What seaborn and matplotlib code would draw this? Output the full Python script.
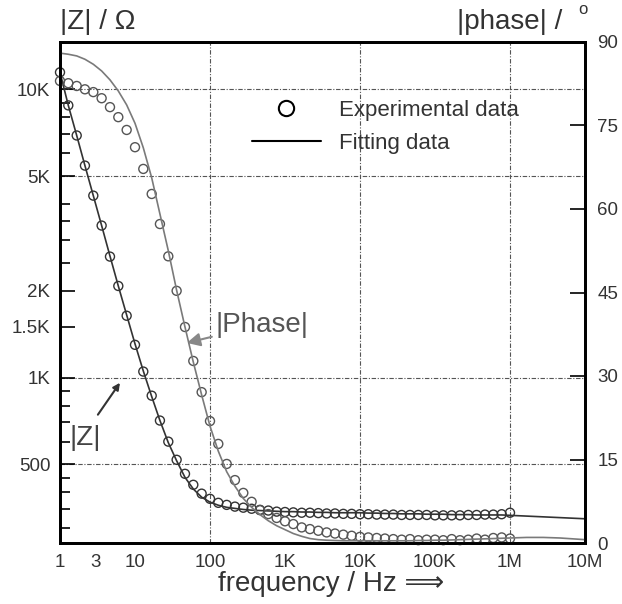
import matplotlib
matplotlib.use("Agg")
import matplotlib.pyplot as plt
import seaborn as sns
import pandas as pd
from matplotlib.lines import Line2D
from matplotlib.ticker import FixedLocator, FixedFormatter, NullFormatter

# measured frequencies, 9 points per decade (Hz)
freq_exp = [1, 1.29, 1.67, 2.15, 2.78, 3.59, 4.64, 5.99, 7.74,
            10, 12.9, 16.7, 21.5, 27.8, 35.9, 46.4, 59.9, 77.4,
            100, 129, 167, 215, 278, 359, 464, 599, 774,
            1e3, 1.29e3, 1.67e3, 2.15e3, 2.78e3, 3.59e3, 4.64e3, 5.99e3, 7.74e3,
            1e4, 1.29e4, 1.67e4, 2.15e4, 2.78e4, 3.59e4, 4.64e4, 5.99e4, 7.74e4,
            1e5, 1.29e5, 1.67e5, 2.15e5, 2.78e5, 3.59e5, 4.64e5, 5.99e5, 7.74e5,
            1e6]
# fit continues up to 10 MHz
freq_fit = freq_exp + [1.29e6, 1.67e6, 2.15e6, 2.78e6, 3.59e6, 4.64e6, 5.99e6, 7.74e6, 1e7]

z_exp = [11460, 8800, 6920, 5440, 4280, 3370, 2630, 2080, 1640,
         1300, 1050, 866, 710, 600, 519, 464, 425, 396,
         380, 368, 362, 357, 354, 351, 348, 346, 343,
         342, 341, 340, 340, 339, 338, 338, 337, 337,
         336, 336, 335, 335, 335, 334, 334, 334, 334,
         333, 333, 333, 333, 334, 334, 335, 335, 336,
         340]
phase_exp = [83.0, 82.6, 82.1, 81.5, 81.0, 79.9, 78.3, 76.5, 74.2,
             71.1, 67.2, 62.7, 57.3, 51.5, 45.3, 38.8, 32.7, 27.1,
             21.9, 17.8, 14.2, 11.3, 9.0, 7.4, 5.9, 5.2, 4.5,
             3.9, 3.4, 2.8, 2.5, 2.2, 1.9, 1.7, 1.5, 1.3,
             1.1, 1.0, 0.9, 0.8, 0.7, 0.6, 0.7, 0.5, 0.6,
             0.6, 0.5, 0.7, 0.5, 0.6, 0.8, 0.6, 0.9, 1.0,
             0.8]

z_fit = [11460, 8800, 6920, 5440, 4280, 3370, 2640, 2080, 1650,
         1310, 1055, 860, 710, 595, 515, 451, 411, 385,
         370, 361, 355, 352, 349, 347, 346, 345, 344,
         343, 343, 342, 342, 341, 341, 340, 340, 340,
         340, 339, 339, 338, 338, 337, 337, 337, 336,
         336, 336, 335, 335, 335, 334, 334, 334, 334,
         333, 332, 331, 330, 329, 328, 327, 326, 325,
         324]
phase_fit = [88.0, 87.8, 87.5, 86.9, 86.0, 84.8, 83.2, 81.2, 78.7,
             75.4, 71.0, 65.6, 59.1, 52.5, 45.4, 38.8, 32.5, 26.6,
             21.0, 16.5, 12.8, 10.2, 8.0, 6.4, 5.1, 4.0, 3.1,
             2.4, 1.7, 1.2, 0.8, 0.6, 0.5, 0.45, 0.4, 0.4,
             0.4, 0.4, 0.4, 0.4, 0.4, 0.4, 0.4, 0.45, 0.45,
             0.5, 0.5, 0.55, 0.6, 0.65, 0.7, 0.75, 0.8, 0.85,
             0.9, 0.95, 1.0, 1.0, 1.0, 0.95, 0.9, 0.8, 0.7,
             0.6]

x_ticks = [1, 3, 10, 100, 1e3, 1e4, 1e5, 1e6, 1e7]
x_labels = ["1", "3", "10", "100", "1K", "10K", "100K", "1M", "10M"]
x_minor = [5, 50, 500, 5e3, 5e4, 5e5, 5e6]
z_ticks = [500, 1000, 1500, 2000, 5000, 10000]
z_labels = ["500", "1K", "1.5K", "2K", "5K", "10K"]
z_minor = [300, 350, 400, 450, 600, 700, 800, 900,
           2500, 3000, 3500, 4000, 6000, 7000, 8000, 9000]
phase_ticks = [0, 15, 30, 45, 60, 75, 90]
grid_z = [500, 1000, 5000, 10000]
grid_f = [100, 1e4, 1e6]

exp_df = pd.DataFrame({"f": freq_exp, "z": z_exp, "phase": phase_exp})
fit_df = pd.DataFrame({"f": freq_fit, "z": z_fit, "phase": phase_fit})

sns.set_style("white")
plt.rcParams["font.family"] = ["Liberation Sans", "DejaVu Sans"]
plt.rcParams["text.color"] = "#333333"
plt.rcParams["xtick.color"] = "black"
plt.rcParams["ytick.color"] = "black"

fig = plt.figure(figsize=(6.22, 6.04), dpi=100)
ax = fig.add_axes([60 / 622, 61 / 604, 525 / 622, 501 / 604])
ax2 = ax.twinx()

ax.set_xscale("log")
ax.set_yscale("log")
ax.set_xlim(1, 1e7)
ax.set_ylim(267, 14600)
ax2.set_ylim(0, 90)

grid_style = dict(color="#555555", lw=0.8, ls=(0, (4, 1.5, 1, 1.5)), zorder=0)
for g in grid_z:
    ax.axhline(g, **grid_style)
for g in grid_f:
    ax.axvline(g, **grid_style)

sns.lineplot(data=fit_df, x="f", y="z", ax=ax, color="#333333", lw=1.2)
sns.scatterplot(data=exp_df, x="f", y="z", ax=ax, marker="o", s=42,
                facecolors="none", edgecolor="#333333", linewidth=1.0, clip_on=False)
sns.lineplot(data=fit_df, x="f", y="phase", ax=ax2, color="#7a7a7a", lw=1.2)
sns.scatterplot(data=exp_df, x="f", y="phase", ax=ax2, marker="o", s=42,
                facecolors="none", edgecolor="#555555", linewidth=1.0, clip_on=False)

ax.set_xlabel("")
ax.set_ylabel("")
ax2.set_ylabel("")

ax.xaxis.set_major_locator(FixedLocator(x_ticks))
ax.xaxis.set_major_formatter(FixedFormatter(x_labels))
ax.xaxis.set_minor_locator(FixedLocator(x_minor))
ax.xaxis.set_minor_formatter(NullFormatter())
ax.yaxis.set_major_locator(FixedLocator(z_ticks))
ax.yaxis.set_major_formatter(FixedFormatter(z_labels))
ax.yaxis.set_minor_locator(FixedLocator(z_minor))
ax.yaxis.set_minor_formatter(NullFormatter())
ax2.set_yticks(phase_ticks)

ax.tick_params(axis="x", which="both", direction="in", length=11, width=1.2,
               labelsize=13.5, labelcolor="#333333", pad=8, top=False)
ax.tick_params(axis="y", which="major", direction="in", length=11, width=1.2,
               labelsize=13.5, labelcolor="#333333", pad=7, right=False)
ax.tick_params(axis="y", which="minor", direction="in", length=7, width=1.2, right=False)
ax2.tick_params(axis="y", direction="in", length=11, width=1.2,
                labelsize=13.5, labelcolor="#333333", pad=9)

for a in (ax, ax2):
    for sp in a.spines.values():
        sp.set_linewidth(2)
        sp.set_color("black")

ax.set_xlabel("frequency / Hz \u27f9", fontsize=20, color="#333333")
ax.xaxis.set_label_coords(271 / 525, -0.055)

fig.text(60 / 622, 1 - 22 / 604, "|Z| / \u03a9", fontsize=20, va="center", ha="left")
fig.text(562 / 622, 1 - 22 / 604, "|phase| /", fontsize=20, va="center", ha="right")
fig.text(583 / 622, 1 - 10 / 604, "o", fontsize=12, va="center", ha="center")

ax.annotate("|Phase|", xy=(49, 1320), xytext=(117, 1527), fontsize=20, color="#555555",
            va="center", ha="left",
            arrowprops=dict(arrowstyle="-|>", color="#888888", lw=1.5, shrinkA=0, shrinkB=0))
ax.annotate("", xy=(6.3, 960), xytext=(3.2, 744),
            arrowprops=dict(arrowstyle="-|>", color="#333333", lw=1.5, shrinkA=0, shrinkB=0))
ax.text(2.2, 619, "|Z|", fontsize=20, color="#444444", va="center", ha="center")

handles = [Line2D([], [], ls="none", marker="o", ms=11, mfc="none", mec="black", mew=1.5),
           Line2D([], [], color="black", lw=1.5)]
ax2.legend(handles, ["Experimental data", "Fitting data"], loc="upper left",
           bbox_to_anchor=(192 / 525, 0.885), frameon=False, fontsize=16,
           handlelength=3.1, handletextpad=0.8, labelspacing=0.55,
           borderpad=0, borderaxespad=0)

fig.savefig("out.png", dpi=100)
